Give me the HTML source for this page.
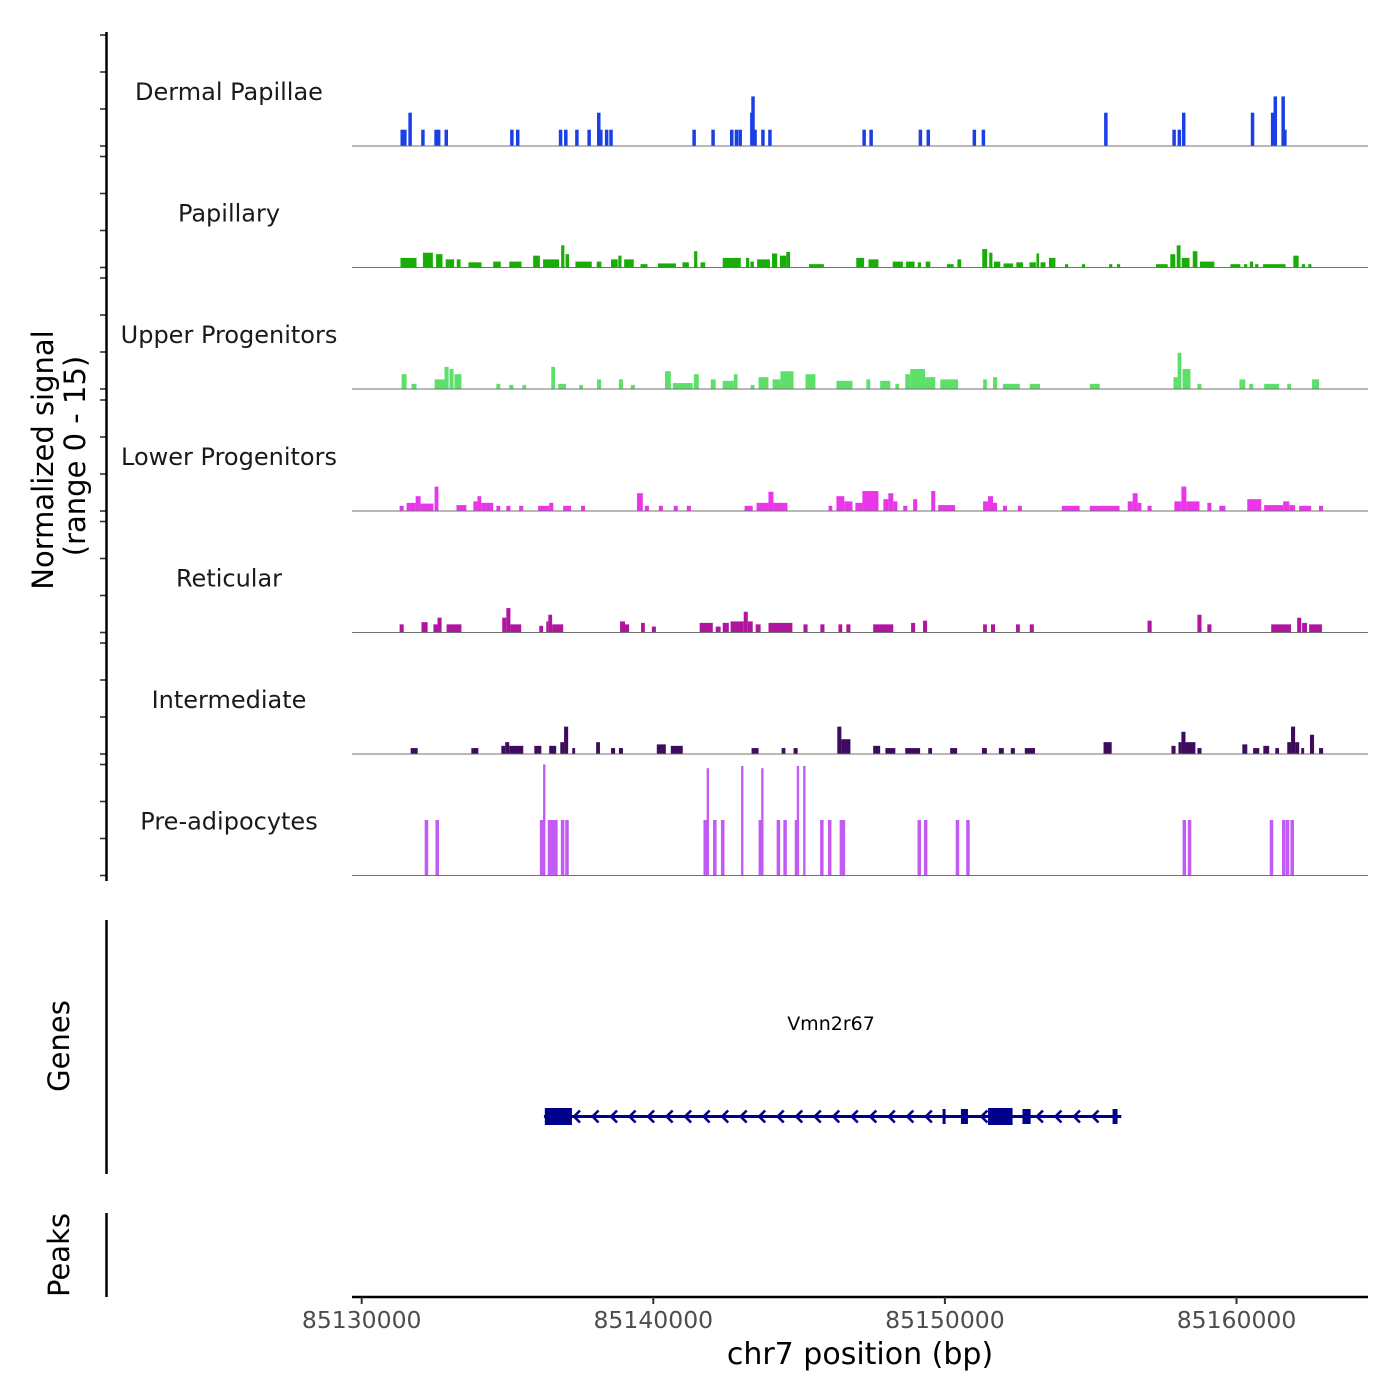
<!DOCTYPE html>
<html><head><meta charset="utf-8">
<style>
html,body{margin:0;padding:0;background:#fff;}
svg{display:block;font-family:"DejaVu Sans","Liberation Sans",sans-serif;}
</style></head>
<body>
<svg id="chart" width="1400" height="1400" viewBox="0 0 1400 1400" xmlns="http://www.w3.org/2000/svg">
  <g id="tracks"></g>
  <g id="axes"></g>
  <g id="gene"></g>
  <text transform="translate(53,460) rotate(-90)" text-anchor="middle" font-size="29" fill="#000">Normalized signal</text>
  <text transform="translate(85,456) rotate(-90)" text-anchor="middle" font-size="29" fill="#000">(range 0 - 15)</text>
  <text transform="translate(69,1046) rotate(-90)" text-anchor="middle" font-size="29" fill="#000">Genes</text>
  <text transform="translate(69,1255) rotate(-90)" text-anchor="middle" font-size="29" fill="#000">Peaks</text>
  <text x="860" y="1364" text-anchor="middle" font-size="30" fill="#000">chr7 position (bp)</text>
  <text x="831" y="1030" text-anchor="middle" font-size="19" fill="#000">Vmn2r67</text>
</svg>
<script>
// ---- data (positions in kb offset from regionStart) ----
const regionStart = 85130000;
const xTicks = [85130000, 85140000, 85150000, 85160000];
const yTickValues = [0, 5, 10, 15];
const trackNames = ["Dermal Papillae","Papillary","Upper Progenitors","Lower Progenitors","Reticular","Intermediate","Pre-adipocytes"];
const trackColors = ["#1a3fe6","#1aad0a","#5de06a","#ea35ea","#b0159f","#3d0c5c","#c25af4"];

const dermalPos = [1.39,1.48,1.66,2.10,2.55,2.64,2.90,5.15,5.35,6.82,7.00,7.38,7.80,8.13,8.20,8.40,8.55,11.40,12.05,12.69,12.85,12.98,13.38,13.42,13.49,13.76,14.00,17.23,17.47,19.16,19.43,21.01,21.32,25.52,27.86,28.04,28.19,30.55,31.24,31.33,31.60,31.66];
const dermalVal = [2.2,2.2,4.5,2.2,2.2,2.2,2.2,2.2,2.2,2.2,2.2,2.2,2.2,4.5,2.2,2.2,2.2,2.2,2.2,2.2,2.2,2.2,4.5,6.7,2.2,2.2,2.2,2.2,2.2,2.2,2.2,2.2,2.2,4.5,2.2,2.2,4.5,4.5,4.5,6.7,6.7,2.2];

const papStart = [1.33,2.10,2.55,2.88,3.26,3.66,4.51,5.06,5.88,6.22,6.84,6.99,7.33,8.06,8.55,8.80,9.00,9.56,10.16,11.00,11.40,11.62,12.38,13.18,13.33,13.56,14.07,14.34,14.56,15.34,16.96,17.38,18.21,18.67,19.07,19.34,20.07,20.43,21.28,21.52,21.68,22.01,22.45,22.90,23.14,23.28,23.57,24.12,24.70,25.63,25.90,27.24,27.73,27.95,28.12,28.50,28.75,29.79,30.26,30.46,30.64,30.91,31.95,32.24,32.46];
const papEnd   = [1.88,2.44,2.77,3.17,3.39,4.11,4.77,5.48,6.11,6.77,6.95,7.11,7.89,8.22,8.78,8.91,9.33,9.80,10.78,11.22,11.51,11.78,13.00,13.29,13.45,14.00,14.25,14.56,14.69,15.85,17.23,17.72,18.56,18.96,19.18,19.50,20.30,20.56,21.45,21.63,21.90,22.34,22.68,23.12,23.23,23.45,23.79,24.23,24.81,25.74,26.01,27.64,27.90,28.08,28.39,28.66,29.24,30.13,30.37,30.57,30.75,31.68,32.13,32.35,32.57];
const papVal   = [1.3,2.0,1.8,1.1,1.1,0.7,0.8,0.8,1.6,1.1,3.0,1.8,0.8,0.8,1.1,1.6,1.1,0.45,0.55,0.7,2.2,0.7,1.3,1.3,0.8,1.1,1.9,1.6,2.1,0.45,1.3,1.1,0.8,0.8,0.7,0.8,0.45,1.1,2.5,2.0,0.8,0.55,0.7,0.7,1.9,0.7,1.3,0.45,0.45,0.45,0.45,0.45,1.8,3.0,1.3,2.2,0.8,0.45,0.45,0.8,0.45,0.45,1.6,0.45,0.45];

const upStart = [1.37,1.71,2.50,2.84,3.01,3.18,4.62,5.06,5.51,6.50,6.74,7.46,8.07,8.82,9.23,10.40,10.67,11.39,11.97,12.38,12.76,13.34,13.61,14.09,14.36,15.22,16.28,17.31,17.78,18.30,18.64,18.81,19.32,19.84,21.31,21.65,21.99,22.91,24.97,27.84,27.98,28.15,28.66,30.10,30.44,30.95,31.74,32.59];
const upEnd   = [1.54,1.88,2.84,2.98,3.15,3.42,4.75,5.20,5.64,6.63,7.01,7.59,8.21,8.96,9.37,10.60,11.35,11.56,12.14,12.76,12.89,13.47,13.95,14.36,14.81,15.56,16.83,17.44,18.13,18.43,18.81,19.32,19.67,20.45,21.44,21.79,22.57,23.26,25.31,27.98,28.11,28.42,28.80,30.30,30.57,31.46,31.87,32.83];
const upVal   = [2.0,0.7,1.3,3.0,2.7,2.0,0.7,0.55,0.55,3.0,0.7,0.55,1.3,1.3,0.55,2.4,0.8,2.0,1.3,1.1,2.0,0.55,1.6,1.3,2.4,2.0,1.1,1.3,1.1,0.7,2.0,2.7,1.6,1.3,1.3,1.6,0.7,0.7,0.7,1.6,4.9,2.7,0.7,1.3,0.7,0.7,0.7,1.3];

const lowStart = [1.30,1.54,1.85,2.02,2.50,3.25,3.83,3.97,4.10,4.62,4.96,5.40,6.05,6.43,6.91,7.52,9.44,9.71,10.19,10.70,11.15,13.13,13.54,13.95,14.12,16.01,16.28,16.55,16.93,17.17,17.89,18.06,18.23,18.57,18.91,19.53,19.77,21.31,21.48,21.65,21.99,22.50,24.01,24.97,26.27,26.44,26.61,26.95,27.87,28.11,28.28,29.00,29.41,30.37,30.95,31.60,31.81,32.15,32.83];
const lowEnd   = [1.44,1.85,2.02,2.46,2.63,3.59,3.97,4.10,4.51,4.75,5.10,5.54,6.43,6.57,7.18,7.66,9.64,9.85,10.33,10.84,11.29,13.41,13.95,14.12,14.60,16.14,16.55,16.83,17.17,17.72,18.06,18.23,18.37,18.71,19.05,19.67,20.35,21.48,21.65,21.79,22.13,22.64,24.62,25.99,26.44,26.61,26.74,27.09,28.11,28.28,28.73,29.14,29.62,30.85,31.60,31.81,32.01,32.56,32.97];
const lowVal   = [0.7,1.1,2.0,1.0,3.3,0.8,1.3,2.0,1.1,0.7,0.7,0.7,0.7,1.1,0.7,0.7,2.4,0.7,0.7,0.7,0.7,0.7,1.1,2.6,1.1,0.7,2.0,1.3,1.1,2.7,1.6,2.4,1.3,0.7,1.6,2.7,0.8,1.3,2.0,1.1,0.7,0.7,0.7,0.7,1.3,2.4,1.1,0.7,1.3,3.3,1.3,1.1,0.7,1.6,0.8,1.3,0.8,0.7,0.7];

const retStart = [1.30,2.05,2.46,2.60,2.91,4.82,4.96,5.10,6.09,6.33,6.40,6.53,8.86,9.03,9.58,9.95,11.59,12.14,12.38,12.65,13.10,13.24,13.51,13.95,15.15,15.73,16.35,16.62,17.54,18.84,19.25,21.31,21.58,22.44,22.91,26.95,28.66,29.00,31.19,32.08,32.25,32.49];
const retEnd   = [1.44,2.26,2.60,2.74,3.42,4.96,5.10,5.47,6.22,6.40,6.53,6.91,9.03,9.17,9.71,10.09,12.04,12.31,12.59,13.10,13.24,13.41,13.68,14.77,15.29,15.87,16.48,16.76,18.23,18.98,19.39,21.44,21.72,22.57,23.05,27.09,28.80,29.14,31.87,32.22,32.42,32.93];
const retVal   = [1.1,1.4,1.1,2.0,1.1,2.0,3.3,1.1,0.9,1.5,2.4,1.1,1.5,1.1,1.3,0.8,1.3,0.8,1.3,1.5,2.8,1.5,1.1,1.3,1.1,1.1,1.1,1.1,1.1,1.3,1.6,1.1,1.1,1.1,1.1,1.6,2.4,1.1,1.1,2.0,1.3,1.1];

const intStart = [1.68,3.76,4.79,4.92,5.06,5.92,6.43,6.81,6.94,7.22,8.04,8.55,8.82,10.12,10.60,13.37,14.40,14.81,16.31,16.45,17.54,17.96,18.64,19.43,20.18,21.27,21.85,22.26,22.74,25.44,27.77,28.01,28.11,28.25,28.66,30.20,30.57,30.92,31.33,31.74,31.87,32.01,32.22,32.52,32.83];
const intEnd   = [1.92,4.00,4.92,5.06,5.54,6.16,6.67,6.94,7.08,7.32,8.17,8.69,8.96,10.43,11.01,13.61,14.53,14.95,16.45,16.76,17.78,18.30,19.15,19.56,20.42,21.44,22.02,22.40,23.09,25.72,27.91,28.11,28.25,28.59,28.80,30.37,30.78,31.12,31.46,31.87,32.01,32.15,32.32,32.66,32.97];
const intVal   = [0.8,0.8,1.1,1.6,1.1,1.1,1.1,1.6,3.7,0.8,1.6,0.8,0.8,1.3,1.1,0.8,0.8,0.8,3.7,2.0,1.1,0.8,0.8,0.8,0.8,0.8,0.8,0.8,0.8,1.6,1.1,1.6,3.0,1.6,0.8,1.3,0.8,1.1,0.8,1.6,3.7,1.6,0.8,2.6,0.8];

const preadPos = [2.22,2.59,6.17,6.26,6.44,6.55,6.66,6.89,7.04,11.78,11.87,12.11,12.38,13.05,13.67,13.74,14.29,14.52,14.91,14.96,15.18,15.78,16.05,16.45,16.52,19.12,19.34,20.43,20.79,28.21,28.39,31.20,31.62,31.75,31.91];
const preadVal = [7.5,7.5,7.5,15,7.5,7.5,7.5,7.5,7.5,7.5,14.5,7.5,7.5,14.8,7.5,14.5,7.5,7.5,7.5,14.8,14.8,7.5,7.5,7.5,7.5,7.5,7.5,7.5,7.5,7.5,7.5,7.5,7.5,7.5,7.5];

const exonStart = [6.28,19.92,20.55,21.48,22.66,25.75];
const exonEnd   = [7.21,20.02,20.79,22.32,22.94,25.92];
const exonHeight = [17,15,15,17,15,15];
const geneStartKb = 6.25, geneEndKb = 26.05;

// ---- scales ----
const NS = "http://www.w3.org/2000/svg";
const X0 = 361.7, PXKB = 29.16;
function xKb(kb){ return X0 + kb*PXKB; }
function xBp(bp){ return xKb((bp-regionStart)/1000); }
const baselines = [146,267.5,389,511,632.5,754,875.5];
const PXU = 7.4;
function yVal(v, base){ return base - v*PXU; }
function mk(tag, attrs, parent){
  const e = document.createElementNS(NS, tag);
  for (const k in attrs) e.setAttribute(k, attrs[k]);
  parent.appendChild(e); return e;
}
const tracks = document.getElementById('tracks');
const axes = document.getElementById('axes');
const geneG = document.getElementById('gene');

const rangeSets = [null,[papStart,papEnd,papVal],[upStart,upEnd,upVal],[lowStart,lowEnd,lowVal],[retStart,retEnd,retVal],[intStart,intEnd,intVal],null];
const pointSets = {0:[dermalPos,dermalVal],6:[preadPos,preadVal]};

for (let t=0;t<7;t++){
  const base = baselines[t];
  const g = mk('g',{},tracks);
  
  
  const lbl = mk('text',{x:229,y:base-46,'text-anchor':'middle','font-size':24,fill:'#1a1a1a'},g);
  lbl.textContent = trackNames[t];
  
  
  const col = trackColors[t];
  if (rangeSets[t]){
    const [s,e,v] = rangeSets[t];
    for (let i=0;i<s.length;i++){
      const x1 = xKb(s[i]), x2 = xKb(e[i]), y = yVal(v[i],base);
      const r = mk('rect',{x:x1,y:y,width:Math.max(1.5,x2-x1),height:base-y,fill:col},g);
      
      
    }
  } else {
    const [p,v] = pointSets[t];
    for (let i=0;i<p.length;i++){
      const tall = v[i] > 10;
      const w = tall ? 0.08 : 0.12;
      const x1 = xKb(p[i]-w/2), y = yVal(v[i],base);
      const r = mk('rect',{x:x1,y:y,width:w*PXKB,height:base-y,fill:col},g);
      
      
    }
  }
  const bl = mk('line',{x1:352,x2:1368,y1:base,y2:base,stroke:'#707070','stroke-width':1},g);
  
  
  for (const tv of yTickValues){
    const ty = yVal(tv, base);
    const tk = mk('line',{x1:100,x2:106,y1:ty,y2:ty,stroke:'#333','stroke-width':1.6},axes);
    
    
  }
}
let ax = mk('line',{x1:106.5,x2:106.5,y1:32,y2:881,stroke:'#000','stroke-width':2.5},axes);


ax = mk('line',{x1:106.5,x2:106.5,y1:920,y2:1174,stroke:'#000','stroke-width':2.5},axes);


ax = mk('line',{x1:106.5,x2:106.5,y1:1213,y2:1297,stroke:'#000','stroke-width':2.5},axes);


ax = mk('line',{x1:352,x2:1368,y1:1297,y2:1297,stroke:'#000','stroke-width':2.5},axes);


for (const tb of xTicks){
  const tx = xBp(tb);
  const tk = mk('line',{x1:tx,x2:tx,y1:1297,y2:1304,stroke:'#333','stroke-width':2},axes);
  
  
  const tl = mk('text',{x:tx,y:1328,'text-anchor':'middle','font-size':23.5,fill:'#4d4d4d'},axes);
  tl.textContent = String(tb);
  
  
}
const GY = 1116.5, GC = '#00008b';
const gl = mk('line',{x1:xKb(geneStartKb),x2:xKb(geneEndKb),y1:GY,y2:GY,stroke:GC,'stroke-width':3},geneG);


for (let i=0;i<exonStart.length;i++){
  const x1 = xKb(exonStart[i]), x2 = xKb(exonEnd[i]);
  const r = mk('rect',{x:x1,y:GY-exonHeight[i]/2,width:Math.max(3,x2-x1),height:exonHeight[i],fill:GC},geneG);
  
  
}
for (let kb = geneStartKb + 1.1; kb < geneEndKb; kb += 0.635){
  const ax2 = xKb(kb);
  const inExon = exonStart.some((s,i)=> xKb(s)-4 < ax2 && ax2 < xKb(exonEnd[i])+4);
  if (inExon) continue;
  const p = mk('polyline',{points:`${ax2+4},${GY-6} ${ax2-2},${GY} ${ax2+4},${GY+6}`,fill:'none',stroke:GC,'stroke-width':2.6},geneG);
  
  
}
</script>
</body></html>
